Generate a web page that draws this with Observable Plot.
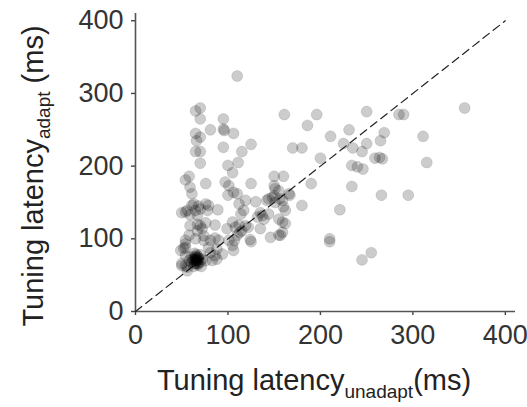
<!DOCTYPE html>
<html><head><meta charset="utf-8">
<script src="https://cdn.jsdelivr.net/npm/d3@7"></script>
<script src="https://cdn.jsdelivr.net/npm/@observablehq/plot@0.6"></script>
<style>body{margin:0;background:#fff} svg{display:block}</style>
</head><body><div id="chart"></div>
<script>
// Tuning latency (ms): unadapted (x) vs adapted (y), grouped by region of the plot
const upperUnadapt = [110,65,70,70,95,81,95,96,106,65, 70,66,95,125,115,65,70,70,111,100, 105,58,54,76,101,125,150,160,161,196, 186,170,180,200,250,285,290,356,231,211, 225,235,250,269,265,245,259,264,267,311, 315,234,240,246,190,234,266,295];
const upperAdapt   = [324,276,280,265,265,250,251,249,245,245, 240,235,226,230,220,220,220,204,205,201, 191,186,181,176,173,176,186,186,271,271, 256,225,225,211,275,271,271,280,250,241, 231,225,231,246,235,220,211,212,210,241, 205,201,199,196,176,172,160,160];
const lowRightUnadapt = [180,221,167,160,162,159,162,157,210,210,255,245];
const lowRightAdapt   = [146,140,160,144,139,123,121,105,100,96,81,71];
const midUnadapt = [59,61,100,110,106,97,151,150,156,150, 155,166,61,68,65,54,59,67,50,56, 63,70,76,78,79,89,112,119,130,117, 114,144,151,159,142,148,135,144,155,139, 137,132];
const midAdapt   = [171,162,160,162,164,178,169,159,155,173, 166,162,146,145,139,137,133,132,136,139, 148,141,148,139,146,140,148,153,151,139, 134,155,150,153,153,157,136,134,127,127, 132,130];
const lowUnadapt = [59,70,76,67,72,67,86,99,108,112, 119,115,105,122,113,110,107,105,106,101, 135,146,155,159,125,124,81,86,90,74, 58,54,65,74,79,49,54,54,52,54, 94,88,83,88,86,81,54,56,50,50, 56,76];
const lowAdapt   = [118,118,122,111,114,120,119,114,116,119, 118,111,123,116,109,105,98,91,84,98, 114,102,105,109,96,99,98,101,98,98, 105,98,100,104,88,84,88,93,87,77, 79,72,70,86,77,81,63,56,63,66, 61,70];
const clusterUnadapt = [62,65,68,64,70,66,60,72,63,67,70,61,65,68,64,71,58,66, 65,66,67,64,66,68,65,63,67,66];
const clusterAdapt   = [72,70,74,66,68,78,75,72,62,64,78,68,74,66,80,62,70,70, 71,73,70,72,68,72,76,70,75,66];

const xTicks = [0, 100, 200, 300, 400];
const yTicks = [0, 100, 200, 300, 400];
const identity = [0, 400];

const unadapt = [...upperUnadapt, ...lowRightUnadapt, ...midUnadapt, ...lowUnadapt, ...clusterUnadapt];
const adapt = [...upperAdapt, ...lowRightAdapt, ...midAdapt, ...lowAdapt, ...clusterAdapt];
const data = unadapt.map((x, i) => ({x, y: adapt[i]}));
const diag = identity.map(v => ({x: v, y: v}));

const plot = Plot.plot({
  width: 527, height: 407,
  marginLeft: 135, marginRight: 12, marginTop: 13, marginBottom: 96,
  style: {fontFamily: "'Liberation Sans', Arial, sans-serif", fontSize: "27px", background: "#fff", color: "#333"},
  x: {domain: [0, 411]},
  y: {domain: [0, 410]},
  marks: [
    Plot.axisX({ticks: xTicks, tickSize: 4, tickPadding: 9, label: null, stroke: "#444", strokeWidth: 1.4, fill: "#333", fontSize: 27}),
    Plot.axisY({ticks: yTicks, tickSize: 4, tickPadding: 8, label: null, stroke: "#444", strokeWidth: 1.4, fill: "#333", fontSize: 27}),
    Plot.ruleX([0], {stroke: "#555", strokeWidth: 1.6}),
    Plot.ruleY([0], {stroke: "#555", strokeWidth: 1.6}),
    Plot.line(diag, {x: "x", y: "y", stroke: "#222", strokeWidth: 1.2, strokeDasharray: "8,5"}),
    Plot.dot(data, {x: "x", y: "y", r: 5.5, fill: "#000", fillOpacity: 0.2, stroke: "#000", strokeOpacity: 0.1, strokeWidth: 1})
  ]
});

const svg = d3.select(plot);
const xl = svg.append("text").attr("x", 314).attr("y", 390).attr("text-anchor", "middle")
  .attr("font-size", 29).attr("fill", "#222");
xl.append("tspan").text("Tuning latency");
xl.append("tspan").attr("font-size", 19).attr("dy", 8).text("unadapt");
xl.append("tspan").attr("dy", -8).text("(ms)");

const yl = svg.append("text").attr("transform", "translate(43,176) rotate(-90)").attr("text-anchor", "middle")
  .attr("font-size", 29).attr("fill", "#222");
yl.append("tspan").text("Tuning latency");
yl.append("tspan").attr("font-size", 19).attr("dy", 7).text("adapt");
yl.append("tspan").attr("dy", -7).text(" (ms)");

document.getElementById("chart").appendChild(plot);
</script>
</body></html>
